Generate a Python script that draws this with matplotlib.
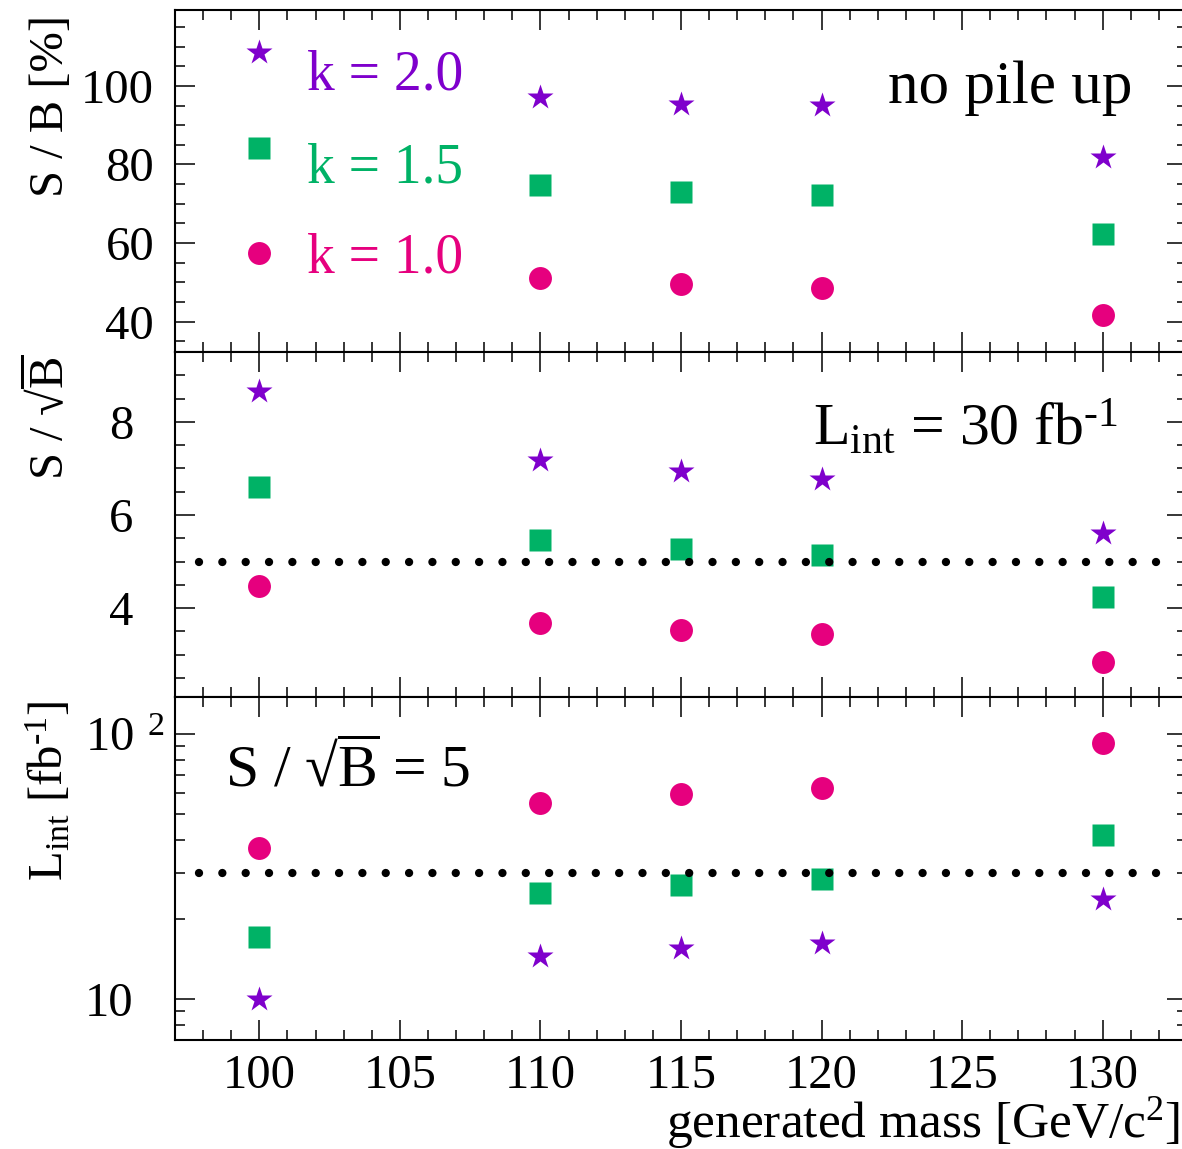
import numpy as np
import matplotlib.pyplot as plt
from matplotlib.ticker import MultipleLocator, FixedLocator, NullFormatter

plt.rcParams['font.family'] = ['Liberation Serif', 'DejaVu Serif']
plt.rcParams['mathtext.fontset'] = 'custom'
plt.rcParams['mathtext.rm'] = 'Liberation Serif'
plt.rcParams['mathtext.it'] = 'Liberation Serif:italic'
plt.rcParams['mathtext.bf'] = 'Liberation Serif:bold'

mass = [100, 110, 115, 120, 130]
k_labels = ['k = 2.0', 'k = 1.5', 'k = 1.0']

# S/B [%]
sb_k20 = [108.7, 97.2, 95.5, 95.1, 81.9]
sb_k15 = [84.1, 74.7, 72.9, 72.2, 62.2]
sb_k10 = [57.6, 51.1, 49.5, 48.7, 41.7]

# S/sqrt(B) for 30 fb^-1
sig_k20 = [8.67, 7.18, 6.94, 6.78, 5.62]
sig_k15 = [6.60, 5.46, 5.26, 5.13, 4.23]
sig_k10 = [4.47, 3.69, 3.53, 3.45, 2.84]

# L_int needed for S/sqrt(B) = 5
lumi_k20 = [10.0, 14.6, 15.6, 16.3, 23.8]
lumi_k15 = [17.2, 25.1, 27.0, 28.4, 41.7]
lumi_k10 = [37.3, 55.2, 59.2, 62.7, 92.5]

sig_ref = 5
lumi_ref = 30

purple = '#7f00cc'
green = '#00b266'
pink = '#e6007e'
styles = [dict(marker='*', color=purple, ms=19),
          dict(marker='s', color=green, ms=16),
          dict(marker='o', color=pink, ms=16.5)]

HY = '\u2010'  # plain hyphen for the exponents
inv_fb = 'fb$^{' + HY + '1}$'
s_over_sqrtb = 'S / \u221a$\\overline{\\mathrm{B}}$'

W, H = 1182, 1149
fig = plt.figure(figsize=(W / 100, H / 100), dpi=100)

def frame(top, bottom):
    left, right = 175, 1187
    return [left / W, 1 - bottom / H, (right - left) / W, (bottom - top) / H]

ax1 = fig.add_axes(frame(10, 352))
ax2 = fig.add_axes(frame(352, 697))
ax3 = fig.add_axes(frame(697, 1040))

for ax in (ax1, ax2, ax3):
    ax.set_xlim(97, 133)
    ax.xaxis.set_major_locator(MultipleLocator(5))
    ax.xaxis.set_minor_locator(MultipleLocator(1))
    ax.tick_params(which='both', direction='in', top=True, right=True,
                   width=1.1, labelsize=35)
    ax.tick_params(which='major', length=14.5)
    ax.tick_params(which='minor', length=7.2)
    for sp in ax.spines.values():
        sp.set_linewidth(1.5)

ax1.tick_params(axis='x', labelbottom=False)
ax2.tick_params(axis='x', labelbottom=False)
ax3.tick_params(axis='x', pad=10)

# top: S/B
for vals, st in zip([sb_k20, sb_k15, sb_k10], styles):
    ax1.plot(mass, vals, ls='none', mec='none', **st)
ax1.set_ylim(32.3, 119.3)
ax1.yaxis.set_minor_locator(MultipleLocator(5))
ax1.set_yticks([40, 60, 80, 100])
ax1.tick_params(axis='y', pad=15)

for lab, st, yb in zip(k_labels, styles, [0.769, 0.497, 0.231]):
    ax1.text(0.1304, yb, lab, transform=ax1.transAxes, color=st['color'],
             fontsize=40, va='baseline', ha='left')
ax1.text(0.9457, 0.727, 'no pile up', transform=ax1.transAxes,
         fontsize=44, va='baseline', ha='right')

# middle: S/sqrt(B) at 30 fb^-1
for vals, st in zip([sig_k20, sig_k15, sig_k10], styles):
    ax2.plot(mass, vals, ls='none', mec='none', **st)
ax2.set_ylim(2.09, 9.5)
ax2.yaxis.set_major_locator(FixedLocator([4, 6, 8]))
ax2.yaxis.set_minor_locator(MultipleLocator(0.5))
ax2.tick_params(axis='y', pad=30)
ax2.plot([97.87, 132.07], [sig_ref, sig_ref], color='black', lw=6,
         ls=(0, (0.001, 2.8)), dash_capstyle='round')
ax2.text(0.630, 0.730, r'L$_{\mathrm{int}}$ = 30 ' + inv_fb,
         transform=ax2.transAxes, fontsize=43, va='baseline', ha='left')

# bottom: L_int for 5 sigma
for vals, st in zip([lumi_k20, lumi_k15, lumi_k10], styles):
    ax3.plot(mass, vals, ls='none', mec='none', **st)
ax3.set_yscale('log')
ax3.set_ylim(7.02, 138)
ax3.yaxis.set_major_locator(FixedLocator([10, 100]))
ax3.yaxis.set_minor_locator(FixedLocator([8, 9, 20, 30, 40, 50, 60, 70, 80, 90]))
ax3.yaxis.set_minor_formatter(NullFormatter())
ax3.set_yticklabels(['10', r'$10^{\;\;2}$'], ha='left')
ax3.tick_params(axis='y', which='major', pad=65)
ax3.plot([97.87, 132.07], [lumi_ref, lumi_ref], color='black', lw=6,
         ls=(0, (0.001, 2.8)), dash_capstyle='round')
ax3.text(0.0494, 0.738, s_over_sqrtb + ' = 5', transform=ax3.transAxes,
         fontsize=43, va='baseline', ha='left')

# axis titles, right/top aligned
xl = -0.1107
ax1.set_ylabel('S / B [%]', fontsize=35, ha='right', va='baseline')
ax1.yaxis.set_label_coords(xl, 0.985)
ax2.set_ylabel(s_over_sqrtb, fontsize=35, ha='right', va='baseline')
ax2.yaxis.set_label_coords(xl, 0.995)
ax3.set_ylabel(r'L$_{\mathrm{int}}$ [' + inv_fb + ']', fontsize=35,
               ha='right', va='baseline')
ax3.yaxis.set_label_coords(xl, 0.99)
ax3.set_xlabel(r'generated mass [GeV/c$^{\mathrm{2}}$]', fontsize=37,
               ha='right', va='baseline')
ax3.xaxis.set_label_coords(0.993, -0.283)

fig.savefig('out.png', dpi=100)
